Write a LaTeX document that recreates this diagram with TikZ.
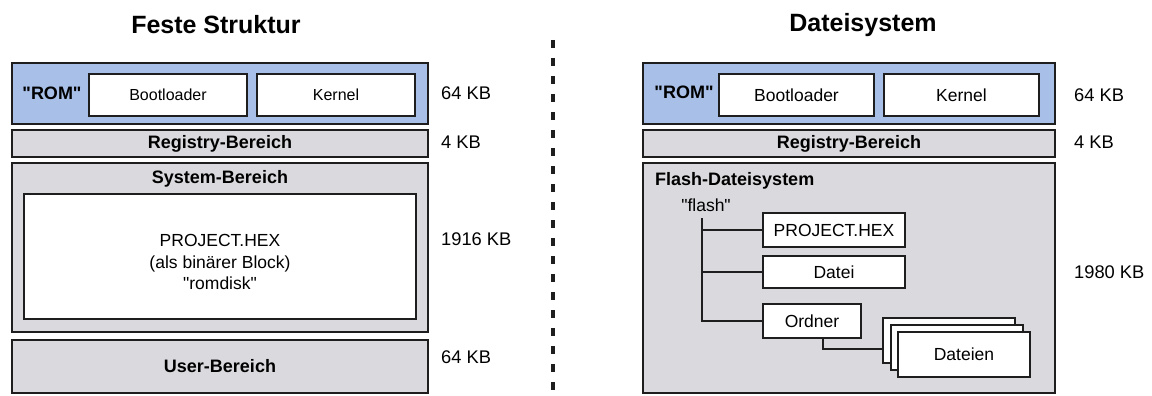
\documentclass[tikz,border=0pt]{standalone}
\usepackage{fontspec}
\setmainfont{Liberation Sans}[Ligatures=TeXOff]
\usetikzlibrary{calc}
\definecolor{romblue}{RGB}{168,192,232}
\definecolor{areagray}{RGB}{218,218,222}
\definecolor{edge}{RGB}{30,30,30}
\tikzset{
  box/.style={draw=edge, line width=2pt, inner sep=0pt, anchor=center},
  rombox/.style={box, fill=romblue},
  graybox/.style={box, fill=areagray},
  whitebox/.style={box, fill=white},
  title/.style={inner sep=0pt, font=\fontsize{25}{28}\selectfont\bfseries},
  head/.style={inner sep=0pt, font=\fontsize{18}{21}\selectfont\bfseries},
  txt/.style={inner sep=0pt, font=\fontsize{17.5}{20}\selectfont},
  size/.style={inner sep=0pt, anchor=west, font=\fontsize{18.3}{21}\selectfont},
  branch/.style={draw=edge, line width=2pt},
}
\begin{document}
\begin{tikzpicture}[x=1pt, y=-1pt]
\useasboundingbox (0,0) rectangle (1152,396);
\fill[white] (0,0) rectangle (1152,396);

% ---------- left column: fixed layout ----------
\node[title] (tL) at (216,25) {Feste Struktur};

\node[rombox, minimum width=416pt, minimum height=61pt] (romL) at (220,93.5) {};
\node[head] (romtL) at (52,93) {"ROM"};
\node[whitebox, minimum width=158pt, minimum height=42pt, font=\fontsize{16}{19}\selectfont] (bootL) at (168,95) {Bootloader};
\node[whitebox, minimum width=158pt, minimum height=42pt, font=\fontsize{16}{19}\selectfont] (kernL) at (336,95) {Kernel};

\node[graybox, minimum width=416pt, minimum height=27pt, head] (regL) at (220,143.5) {Registry-Bereich};

\node[graybox, minimum width=416pt, minimum height=169pt] (sysL) at (220,247.5) {};
\node[head] (systL) at (220,179) {System-Bereich};
\node[whitebox, minimum width=392pt, minimum height=125pt] (hexL) at (220,256.5) {};
\node[txt, align=center] (hextL) at (220,262)
  {PROJECT.HEX\\[1.5pt](als binärer Block)\\[1.5pt]"romdisk"};

\node[graybox, minimum width=416pt, minimum height=53pt, head] (userL) at (220,366.5) {User-Bereich};

\node[size] (s1L) at (441,93) {64 KB};
\node[size] (s2L) at (441,142) {4 KB};
\node[size] (s3L) at (441,239) {1916 KB};
\node[size] (s4L) at (441,357) {64 KB};

% ---------- divider ----------
\coordinate (divtop) at (553,40);
\coordinate (divbot) at (553,396);
\draw[edge, line width=4pt, dash pattern=on 8pt off 10pt] (divtop) -- (divbot);

% ---------- right column: file system ----------
\node[title] (tR) at (863,25) {Dateisystem};

\node[rombox, minimum width=412pt, minimum height=61pt] (romR) at (849,93.5) {};
\node[head] (romtR) at (684,92) {"ROM"};
\node[whitebox, minimum width=155pt, minimum height=42pt, txt] (bootR) at (796.5,95) {Bootloader};
\node[whitebox, minimum width=155pt, minimum height=42pt, txt] (kernR) at (961.5,95) {Kernel};

\node[graybox, minimum width=412pt, minimum height=27pt, head] (regR) at (849,143.5) {Registry-Bereich};

\node[graybox, minimum width=412pt, minimum height=230pt] (flashR) at (849,278) {};
\node[head, anchor=west] (flashtR) at (655,181) {Flash-Dateisystem};
\node[txt] (root) at (706,205) {"flash"};

\node[whitebox, minimum width=142pt, minimum height=34pt, txt] (proj) at (834,230) {PROJECT.HEX};
\node[whitebox, minimum width=142pt, minimum height=32pt, txt] (datei) at (834,272) {Datei};
\node[whitebox, minimum width=98pt, minimum height=34pt, txt] (ordner) at (812,321) {Ordner};

\node[whitebox, minimum width=132pt, minimum height=45pt] (back) at (949,340.5) {};
\node[whitebox, minimum width=132pt, minimum height=45pt] (mid) at (957,347.5) {};
\node[whitebox, minimum width=132pt, minimum height=45pt, txt] (front) at (964,354.5) {Dateien};

\coordinate (trunk) at (702,218);
\draw[branch] (trunk) |- (ordner.west);
\draw[branch] (proj.west) -- (proj.west -| trunk);
\draw[branch] (datei.west) -- (datei.west -| trunk);
\draw[branch] ([xshift=11pt]ordner.south) |- ([yshift=-8.5pt]back.west);

\node[size] (s1R) at (1074,95) {64 KB};
\node[size] (s2R) at (1074,142) {4 KB};
\node[size] (s3R) at (1074,272) {1980 KB};
\end{tikzpicture}
\end{document}
